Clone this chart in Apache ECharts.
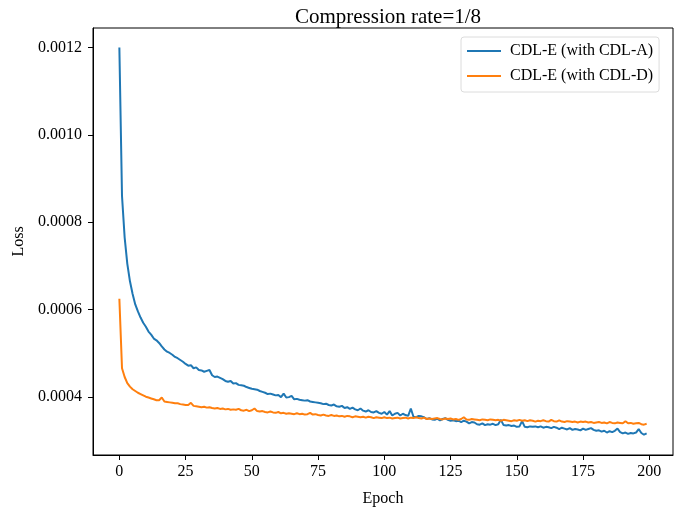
<!DOCTYPE html>
<html>
<head>
<meta charset="utf-8">
<script src="https://cdn.jsdelivr.net/npm/echarts@6/dist/echarts.min.js"></script>
<style>
  html, body { margin: 0; padding: 0; background: #fff; }
  #chart { width: 686px; height: 512px; }
</style>
</head>
<body>
<div id="chart"></div>
<script>
// tick labels
var xTicks = [0, 25, 50, 75, 100, 125, 150, 175, 200];
var yTicks = [0.0004, 0.0006, 0.0008, 0.0010, 0.0012];

// loss per epoch, CDL-E (with CDL-A)
var lossA = [
  0.001200, 0.000860, 0.000765, 0.000705, 0.000665, 0.000636, 0.000612, 0.000596, 0.000582, 0.000570,
  0.000561, 0.000550, 0.000543, 0.000534, 0.000530, 0.000524, 0.000516, 0.000509, 0.000504, 0.000501,
  0.000497, 0.000492, 0.000489, 0.000485, 0.000481, 0.000476, 0.000472, 0.000473, 0.000466, 0.000468,
  0.000462, 0.000461, 0.000458, 0.000460, 0.000462, 0.000450, 0.000446, 0.000447, 0.000444, 0.000441,
  0.000437, 0.000435, 0.000437, 0.000431, 0.000432, 0.000428, 0.000427, 0.000426, 0.000423, 0.000421,
  0.000419, 0.000418, 0.000417, 0.000414, 0.000412, 0.000410, 0.000407, 0.000408, 0.000406, 0.000404,
  0.000405, 0.000400, 0.000408, 0.000399, 0.000400, 0.000403, 0.000395, 0.000396, 0.000394, 0.000393,
  0.000392, 0.000393, 0.000390, 0.000389, 0.000388, 0.000387, 0.000386, 0.000384, 0.000385, 0.000382,
  0.000381, 0.000383, 0.000379, 0.000378, 0.000380, 0.000375, 0.000377, 0.000373, 0.000376, 0.000372,
  0.000370, 0.000374, 0.000369, 0.000367, 0.000370, 0.000366, 0.000365, 0.000368, 0.000364, 0.000362,
  0.000366, 0.000360, 0.000368, 0.000358, 0.000362, 0.000364, 0.000358, 0.000362, 0.000359, 0.000357,
  0.000374, 0.000355, 0.000354, 0.000357, 0.000356, 0.000354, 0.000350, 0.000352, 0.000349, 0.000348,
  0.000351, 0.000347, 0.000350, 0.000352, 0.000348, 0.000346, 0.000347, 0.000345, 0.000346, 0.000343,
  0.000346, 0.000344, 0.000340, 0.000343, 0.000342, 0.000338, 0.000337, 0.000340, 0.000336, 0.000338,
  0.000337, 0.000339, 0.000336, 0.000338, 0.000348, 0.000336, 0.000335, 0.000336, 0.000334, 0.000335,
  0.000332, 0.000333, 0.000345, 0.000332, 0.000331, 0.000333, 0.000332, 0.000333, 0.000331, 0.000333,
  0.000330, 0.000332, 0.000331, 0.000329, 0.000332, 0.000330, 0.000327, 0.000330, 0.000328, 0.000326,
  0.000329, 0.000325, 0.000327, 0.000326, 0.000324, 0.000328, 0.000325, 0.000327, 0.000329, 0.000325,
  0.000323, 0.000324, 0.000321, 0.000323, 0.000319, 0.000322, 0.000320, 0.000323, 0.000328, 0.000320,
  0.000317, 0.000319, 0.000316, 0.000318, 0.000317, 0.000319, 0.000327, 0.000318, 0.000314, 0.000317
];

// loss per epoch, CDL-E (with CDL-D)
var lossD = [
  0.000625, 0.000466, 0.000446, 0.000432, 0.000424, 0.000418, 0.000414, 0.000410, 0.000407, 0.000404,
  0.000401, 0.000399, 0.000397, 0.000395, 0.000393, 0.000393, 0.000399, 0.000390, 0.000389, 0.000388,
  0.000387, 0.000386, 0.000386, 0.000384, 0.000383, 0.000382, 0.000382, 0.000387, 0.000380, 0.000379,
  0.000378, 0.000377, 0.000378, 0.000376, 0.000377, 0.000375, 0.000374, 0.000375, 0.000373, 0.000374,
  0.000372, 0.000373, 0.000371, 0.000372, 0.000371, 0.000373, 0.000370, 0.000369, 0.000371, 0.000368,
  0.000370, 0.000374, 0.000368, 0.000367, 0.000368, 0.000366, 0.000365, 0.000367, 0.000365, 0.000364,
  0.000366, 0.000363, 0.000364, 0.000362, 0.000363, 0.000362, 0.000361, 0.000363, 0.000361, 0.000362,
  0.000360, 0.000361, 0.000364, 0.000360, 0.000361, 0.000359, 0.000358, 0.000360, 0.000358, 0.000357,
  0.000359, 0.000357, 0.000358, 0.000356, 0.000357, 0.000355, 0.000357, 0.000356, 0.000354, 0.000356,
  0.000355, 0.000354, 0.000355, 0.000353, 0.000355, 0.000354, 0.000352, 0.000354, 0.000353, 0.000352,
  0.000354, 0.000352, 0.000353, 0.000351, 0.000352, 0.000353, 0.000351, 0.000352, 0.000353, 0.000351,
  0.000353, 0.000352, 0.000354, 0.000352, 0.000351, 0.000353, 0.000350, 0.000351, 0.000350, 0.000351,
  0.000352, 0.000350, 0.000349, 0.000351, 0.000350, 0.000351, 0.000349, 0.000350, 0.000348, 0.000350,
  0.000354, 0.000349, 0.000348, 0.000350, 0.000349, 0.000348, 0.000347, 0.000349, 0.000348, 0.000347,
  0.000349, 0.000348, 0.000347, 0.000348, 0.000346, 0.000348, 0.000347, 0.000346, 0.000345, 0.000347,
  0.000346, 0.000348, 0.000346, 0.000347, 0.000345, 0.000347, 0.000346, 0.000344, 0.000346, 0.000345,
  0.000347, 0.000345, 0.000344, 0.000348, 0.000345, 0.000344, 0.000347, 0.000344, 0.000343, 0.000345,
  0.000344, 0.000343, 0.000344, 0.000342, 0.000344, 0.000343, 0.000344, 0.000342, 0.000343, 0.000341,
  0.000342, 0.000343, 0.000341, 0.000342, 0.000340, 0.000343, 0.000341, 0.000340, 0.000342, 0.000341,
  0.000340, 0.000345, 0.000340, 0.000341, 0.000339, 0.000340, 0.000341, 0.000338, 0.000337, 0.000339
];

var font = '"Liberation Serif", "DejaVu Serif", serif';

function pairs(arr) {
  return arr.map(function(v, i) { return [i, v]; });
}

var myChart = echarts.init(document.getElementById('chart'));
var option = {
  animation: false,
  backgroundColor: '#fff',
  textStyle: { fontFamily: font, color: '#000' },
  title: {
    text: 'Compression rate=1/8',
    left: 383,
    textAlign: 'center',
    top: 2,
    textStyle: { fontFamily: font, fontSize: 21, fontWeight: 'normal', color: '#000' }
  },
  legend: {
    orient: 'vertical',
    left: 461,
    top: 37,
    padding: [6, 6, 8, 6],
    itemGap: 9,
    itemWidth: 34,
    itemHeight: 2,
    icon: 'rect',
    borderColor: '#dcdcdc',
    borderWidth: 1,
    borderRadius: 3,
    textStyle: { fontFamily: font, fontSize: 16, color: '#000', padding: [0, 0, 0, 4] },
    data: ['CDL-E (with CDL-A)', 'CDL-E (with CDL-D)']
  },
  grid: {
    left: 93, top: 28, right: 13, bottom: 54,
    show: true, borderColor: '#000', borderWidth: 1
  },
  xAxis: {
    type: 'value',
    min: -9.95,
    max: 208.95,
    name: 'Epoch',
    nameLocation: 'middle',
    nameGap: 36,
    nameTextStyle: { fontFamily: font, fontSize: 16, color: '#000' },
    splitLine: { show: false },
    axisLine: { show: true, onZero: false, lineStyle: { color: '#000', width: 1 } },
    axisTick: { show: true, inside: false, length: 5, customValues: xTicks, lineStyle: { color: '#000' } },
    axisLabel: { customValues: xTicks, margin: 9, fontFamily: font, fontSize: 16, color: '#000' }
  },
  yAxis: {
    type: 'value',
    min: 0.0002676,
    max: 0.0012444,
    name: 'Loss',
    nameLocation: 'middle',
    nameGap: 64,
    nameRotate: 90,
    nameTextStyle: { fontFamily: font, fontSize: 16, color: '#000' },
    splitLine: { show: false },
    axisLine: { show: true, onZero: false, lineStyle: { color: '#000', width: 1 } },
    axisTick: { show: true, inside: false, length: 5, customValues: yTicks, lineStyle: { color: '#000' } },
    axisLabel: {
      customValues: yTicks, margin: 11, fontFamily: font, fontSize: 16, color: '#000',
      formatter: function(v) { return v.toFixed(4); }
    }
  },
  series: [
    {
      name: 'CDL-E (with CDL-A)',
      type: 'line',
      showSymbol: false,
      symbol: 'none',
      color: '#1f77b4',
      lineStyle: { width: 2, color: '#1f77b4' },
      data: pairs(lossA)
    },
    {
      name: 'CDL-E (with CDL-D)',
      type: 'line',
      showSymbol: false,
      symbol: 'none',
      color: '#ff7f0e',
      lineStyle: { width: 2, color: '#ff7f0e' },
      data: pairs(lossD)
    }
  ]
};
myChart.setOption(option);
</script>
</body>
</html>
